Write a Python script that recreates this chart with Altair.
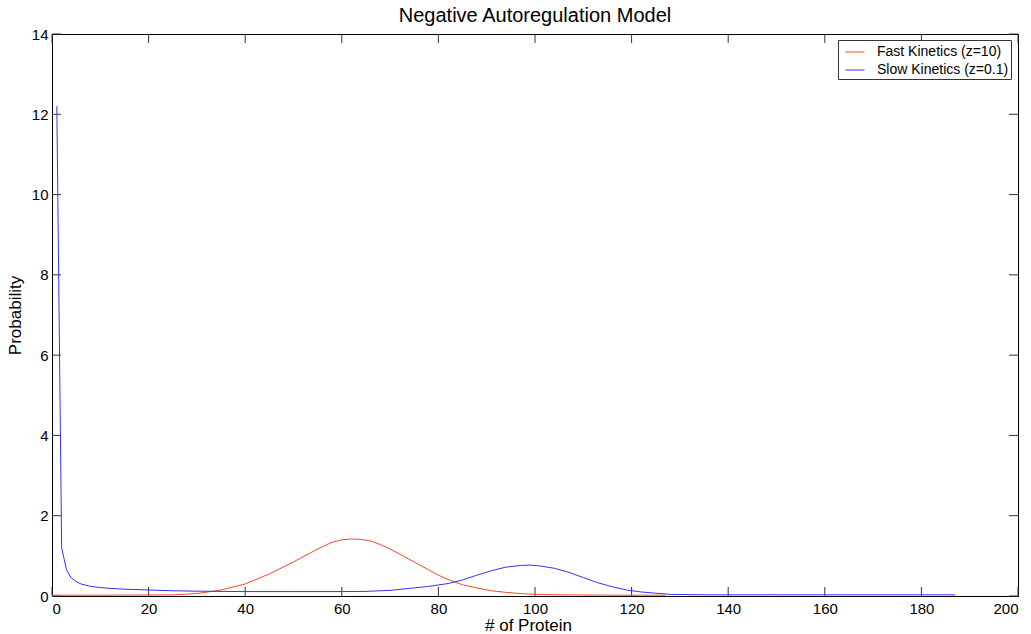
import altair as alt
import pandas as pd

# Fast kinetics (z=10)
fast_x = [0, 10, 20, 25, 30, 35, 40, 45, 50, 55, 58, 60, 62, 64, 66, 68, 70, 73, 76, 78, 80, 82, 85, 88, 91, 94, 97, 100, 105, 110, 115, 120, 127]
fast_y = [0.02, 0.02, 0.025, 0.03, 0.06, 0.15, 0.3, 0.55, 0.85, 1.17, 1.34, 1.40, 1.42, 1.41, 1.37, 1.28, 1.17, 0.98, 0.78, 0.65, 0.52, 0.41, 0.28, 0.2, 0.13, 0.09, 0.06, 0.04, 0.03, 0.025, 0.02, 0.02, 0.02]

# Slow kinetics (z=0.1)
slow_x = [1, 2, 3, 4, 5, 6, 8, 10, 12, 15, 20, 25, 30, 40, 50, 60, 65, 70, 74, 78, 82, 85, 88, 91, 94, 97, 99, 101, 104, 107, 110, 113, 116, 119, 122, 125, 128, 135, 150, 170, 187]
slow_y = [12.2, 1.2, 0.65, 0.45, 0.36, 0.3, 0.24, 0.21, 0.19, 0.17, 0.15, 0.13, 0.12, 0.11, 0.11, 0.11, 0.115, 0.14, 0.19, 0.24, 0.31, 0.4, 0.52, 0.63, 0.72, 0.76, 0.77, 0.75, 0.69, 0.59, 0.46, 0.33, 0.23, 0.15, 0.1, 0.07, 0.04, 0.03, 0.03, 0.03, 0.03]

series_names = ["Fast Kinetics (z=10)", "Slow Kinetics (z=0.1)"]
series_colors = ["#f44a26", "#3333ff"]

x_ticks = [0, 20, 40, 60, 80, 100, 120, 140, 160, 180, 200]
y_ticks = [0, 2, 4, 6, 8, 10, 12, 14]

W, H = 966, 562
TICK = 9
FONT = "Liberation Sans"

df = pd.concat([
    pd.DataFrame({"x": fast_x, "y": fast_y, "s": series_names[0], "o": range(len(fast_x))}),
    pd.DataFrame({"x": slow_x, "y": slow_y, "s": series_names[1], "o": range(len(slow_x))}),
])

xs = alt.Scale(domain=[0, 200], nice=False, zero=False)
ys = alt.Scale(domain=[0, 14], nice=False, zero=False)

lines = alt.Chart(df).mark_line(strokeWidth=1, clip=True).encode(
    x=alt.X("x:Q", scale=xs, title="# of Protein",
            axis=alt.Axis(values=x_ticks, tickSize=0, grid=False, labelPadding=5, format="d",
                          titlePadding=1, titleX=476, domainColor="#000")),
    y=alt.Y("y:Q", scale=ys, title="Probability",
            axis=alt.Axis(values=y_ticks, tickSize=0, grid=False, labelPadding=4, format="d",
                          titlePadding=7, domainColor="#000")),
    color=alt.Color("s:N", scale=alt.Scale(domain=series_names, range=series_colors),
                    legend=alt.Legend(title=None, orient="none", legendX=786, legendY=6)),
    order="o:Q",
)

xt = pd.DataFrame({"v": x_ticks})
yt = pd.DataFrame({"v": y_ticks})

xb = alt.Chart(xt).mark_rule(color="#333", strokeWidth=1).encode(
    x=alt.X("v:Q", scale=xs), y=alt.value(H - TICK), y2=alt.value(H))
xtop = alt.Chart(xt).mark_rule(color="#333", strokeWidth=1).encode(
    x=alt.X("v:Q", scale=xs), y=alt.value(0), y2=alt.value(TICK))
yl = alt.Chart(yt).mark_rule(color="#333", strokeWidth=1).encode(
    y=alt.Y("v:Q", scale=ys), x=alt.value(0), x2=alt.value(TICK))
yr = alt.Chart(yt).mark_rule(color="#333", strokeWidth=1).encode(
    y=alt.Y("v:Q", scale=ys), x=alt.value(W - TICK), x2=alt.value(W))

chart = alt.layer(xb, xtop, yl, yr, lines).properties(
    width=W, height=H,
    title=alt.Title("Negative Autoregulation Model", font=FONT, fontSize=20, fontWeight="normal",
                    color="#000", offset=1),
    autosize=alt.AutoSizeParams(type="none"),
    padding={"left": 52, "top": 34, "right": 13, "bottom": 38},
    background="white",
).configure_view(stroke="#000", strokeWidth=1).configure_axis(
    labelFont=FONT, labelFontSize=15, labelColor="#000",
    titleFont=FONT, titleFontSize=17, titleFontWeight="normal", titleColor="#000",
).configure_legend(
    symbolType="stroke", symbolSize=361, symbolStrokeWidth=1,
    labelFont=FONT, labelFontSize=14, labelColor="#000", labelLimit=300,
    strokeColor="#333", fillColor="white", padding=2,
    rowPadding=1, symbolOffset=5, labelOffset=12,
)

chart.save("out.html", embed_options={"renderer": "svg", "actions": False})
